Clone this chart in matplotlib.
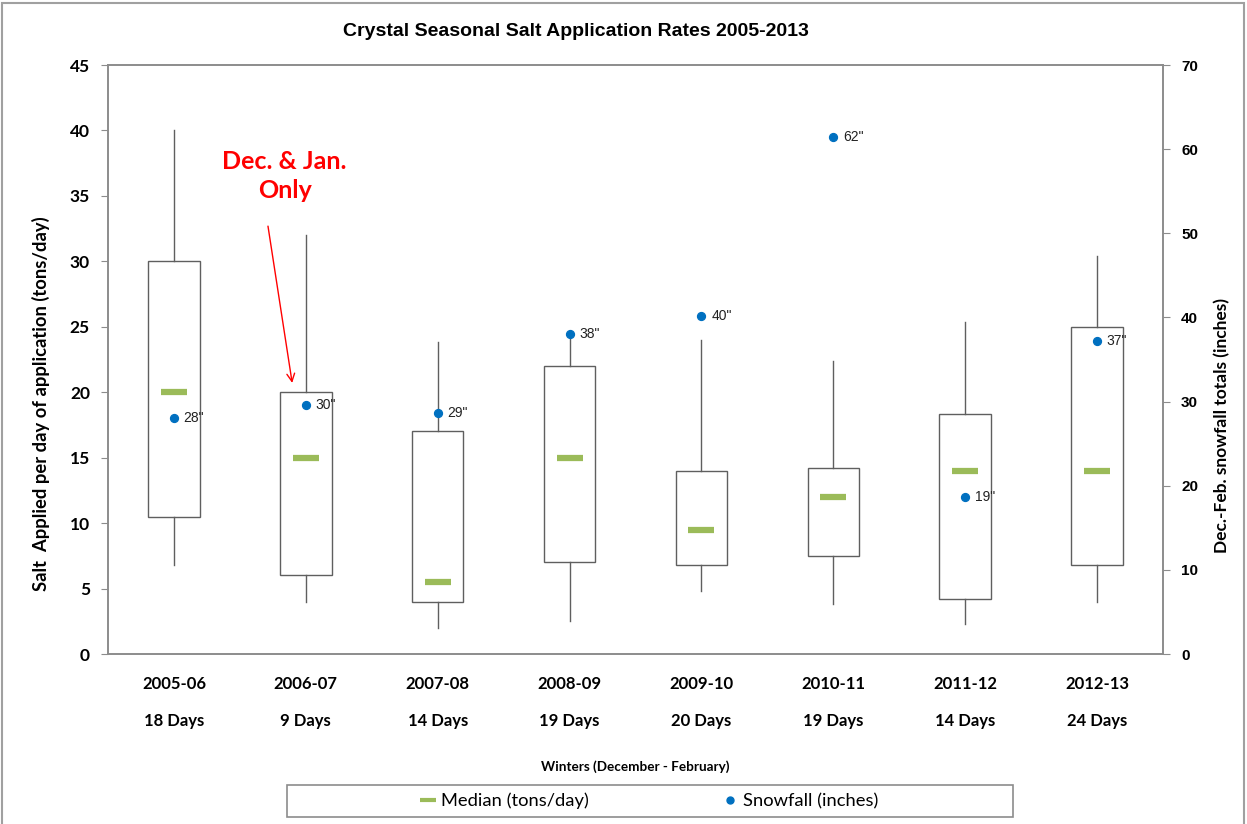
import matplotlib
matplotlib.use('Agg')
import matplotlib.pyplot as plt
from matplotlib.lines import Line2D
from matplotlib.patches import Rectangle

# data
winters = ['2005-06', '2006-07', '2007-08', '2008-09', '2009-10', '2010-11', '2011-12', '2012-13']
days = [18, 9, 14, 19, 20, 19, 14, 24]
whisker_low = [6.8, 4.0, 2.0, 2.5, 4.8, 3.8, 2.3, 4.0]
q1 = [10.5, 6.0, 4.0, 7.0, 6.8, 7.5, 4.2, 6.8]
median = [20, 15, 5.5, 15, 9.5, 12, 14, 14]
q3 = [30, 20, 17, 22, 14, 14.2, 18.3, 25]
whisker_high = [40, 32, 23.8, 24.6, 24, 22.4, 25.4, 30.4]
snowfall = [28.1, 29.6, 28.6, 38.0, 40.2, 61.5, 18.7, 37.2]
snow_labels = ['28"', '30"', '29"', '38"', '40"', '62"', '19"', '37"']

CAL = 'Lato'
ARIAL = 'Liberation Sans'
GRAY = '#8c8c8c'
LINE = '#5f5f5f'
GREEN = '#9bbb59'
BLUE = '#0070c0'

fig = plt.figure(figsize=(12.47, 8.24), dpi=100)
ax = fig.add_axes([0.0866, 0.2063, 0.846, 0.7148])

stats = []
for i in range(len(winters)):
    stats.append({'whislo': whisker_low[i], 'q1': q1[i], 'med': median[i],
                  'q3': q3[i], 'whishi': whisker_high[i], 'fliers': []})
pos = list(range(len(winters)))
ax.bxp(stats, positions=pos, widths=0.39, patch_artist=True, showcaps=False,
       showfliers=False,
       boxprops=dict(facecolor='white', edgecolor=LINE, linewidth=1.0),
       whiskerprops=dict(color=LINE, linewidth=1.0),
       medianprops=dict(linewidth=0))
ax.plot(pos, median, linestyle='none', marker='_', markersize=19, markeredgewidth=4.5,
        color=GREEN, zorder=5)

ax.set_xlim(-0.5, 7.5)
ax.set_ylim(0, 45)
ax.set_yticks(range(0, 46, 5))
ax.set_xticks(pos)
ax.set_xticklabels([w + '\n\n' + str(d) + ' Days' for w, d in zip(winters, days)],
                   fontfamily=CAL, fontweight='bold', fontsize=12, linespacing=1.2)
ax.tick_params(axis='x', length=0, pad=16)
ax.tick_params(axis='y', direction='out', length=5, color=GRAY, labelsize=12.5, pad=8)
for lab in ax.get_yticklabels():
    lab.set_fontfamily(CAL)
    lab.set_fontweight('bold')
for s in ax.spines.values():
    s.set_color(GRAY)
    s.set_linewidth(1.2)
ax.set_ylabel('Salt  Applied per day of application (tons/day)', fontfamily=CAL,
              fontweight='bold', fontsize=13)
ax.yaxis.set_label_coords(-0.055, 0.425)
ax.set_xlabel('Winters (December - February)', fontfamily=CAL, fontweight='bold',
              fontsize=9.7, labelpad=22)

ax2 = ax.twinx()
ax2.set_ylim(0, 70)
ax2.set_yticks(range(0, 71, 10))
ax2.scatter(pos, snowfall, s=32, color=BLUE, zorder=6)
for x, y, t in zip(pos, snowfall, snow_labels):
    ax2.annotate(t, (x, y), xytext=(7, 0), textcoords='offset points', va='center',
                 ha='left', fontfamily=ARIAL, fontsize=10, color='#222222')
ax2.tick_params(axis='y', direction='out', length=5, color=GRAY, labelsize=11, pad=8)
for lab in ax2.get_yticklabels():
    lab.set_fontfamily(ARIAL)
    lab.set_fontweight('bold')
for s in ax2.spines.values():
    s.set_color(GRAY)
    s.set_linewidth(1.2)
ax2.set_ylabel('Dec.-Feb. snowfall totals (inches)', fontfamily=CAL, fontweight='bold',
               fontsize=13)
ax2.yaxis.set_label_coords(1.048, 0.388)

fig.text(576 / 1247, 1 - 31 / 824, 'Crystal Seasonal Salt Application Rates 2005-2013',
         fontfamily=ARIAL, fontweight='bold', fontsize=14, ha='center', va='center')

# red note with arrow
ax.annotate('', xy=(0.90, 20.5), xytext=(0.71, 32.9),
            arrowprops=dict(arrowstyle='->', color='red', lw=1.0, mutation_scale=14))
ax.text(0.84, 36.5, 'Dec. & Jan.\nOnly', color='red', fontfamily=CAL, fontweight='bold',
        fontsize=18, ha='center', va='center', linespacing=1.3)

# legend with its own frame
fig.patches.append(Rectangle((287 / 1247, 1 - 817 / 824), 726 / 1247, 32 / 824,
                             transform=fig.transFigure, facecolor='none',
                             edgecolor=GRAY, linewidth=1.2))
handles = [Line2D([], [], linestyle='none', marker='_', markersize=11, markeredgewidth=3,
                  color=GREEN),
           Line2D([], [], linestyle='none', marker='o', markersize=5, color=BLUE)]
fig.legend(handles, ['Median (tons/day)', 'Snowfall (inches)'], loc='center',
           bbox_to_anchor=(650 / 1247, 1 - 801 / 824), ncol=2, frameon=False,
           prop={'family': CAL, 'size': 13.2}, handlelength=0.7, handletextpad=0.35,
           columnspacing=7.4)

# outer border
fig.patches.append(Rectangle((2 / 1247, -0.01), 1242 / 1247, 1 - 3 / 824 + 0.01,
                             transform=fig.transFigure, facecolor='none',
                             edgecolor='#a0a0a0', linewidth=1.5))

# scale the axis titles so they span the same length as in the original
fig.canvas.draw()
renderer = fig.canvas.get_renderer()
for lab, target in ((ax.yaxis.label, 373), (ax2.yaxis.label, 255)):
    h = lab.get_window_extent(renderer).height
    lab.set_fontsize(lab.get_fontsize() * target / h)

fig.savefig('out.png', dpi=100)
